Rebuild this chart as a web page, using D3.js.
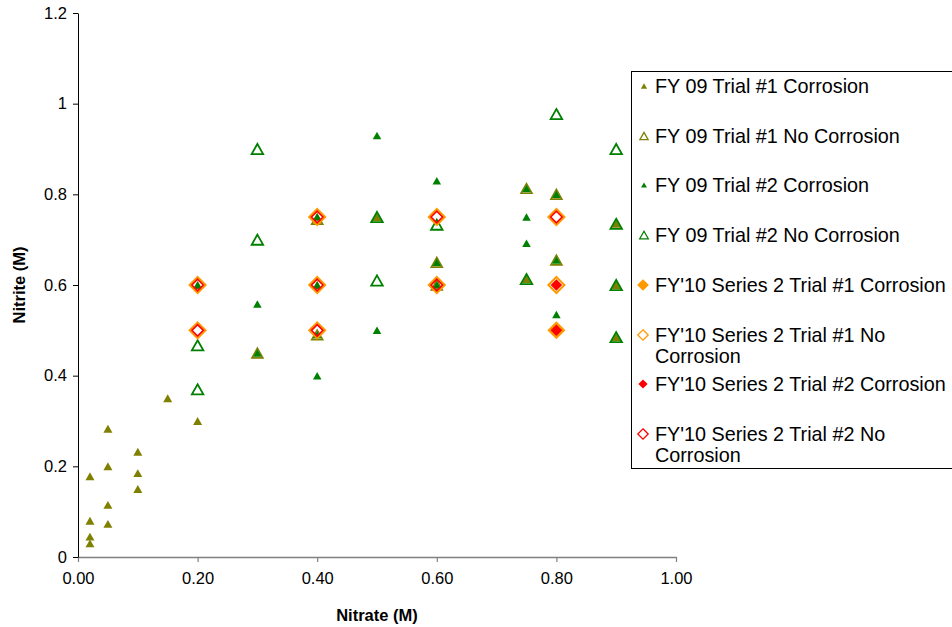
<!DOCTYPE html>
<html><head><meta charset="utf-8">
<script src="https://cdn.jsdelivr.net/npm/d3@7"></script>
<style>body{margin:0;background:#fff;overflow:hidden}svg{display:block}text{font-family:"Liberation Sans",Arial,sans-serif}</style>
</head><body>
<script>
const xTicks = [0, 0.2, 0.4, 0.6, 0.8, 1.0];
const yTicks = [0, 0.2, 0.4, 0.6, 0.8, 1.0, 1.2];

const seriesNames = [
  "FY 09 Trial #1 Corrosion",
  "FY 09 Trial #1 No Corrosion",
  "FY 09 Trial #2 Corrosion",
  "FY 09 Trial #2 No Corrosion",
  "FY'10 Series 2 Trial #1 Corrosion",
  "FY'10 Series 2 Trial #1 No Corrosion",
  "FY'10 Series 2 Trial #2 Corrosion",
  "FY'10 Series 2 Trial #2 No Corrosion"
];

const t1cX = [0.02,0.02,0.02,0.02,0.05,0.05,0.05,0.05,0.10,0.10,0.10,0.15,0.20,0.20,0.40,0.50,0.75,0.90,0.90,0.90];
const t1cY = [0.03,0.045,0.08,0.178,0.073,0.115,0.20,0.283,0.15,0.185,0.232,0.35,0.30,0.60,0.60,0.75,0.613,0.735,0.60,0.485];

const t1ncX = [0.30,0.40,0.40,0.60,0.60,0.75,0.80,0.80];
const t1ncY = [0.45,0.745,0.49,0.65,0.60,0.813,0.80,0.655];

const t2cX = [0.20,0.30,0.30,0.40,0.40,0.40,0.40,0.50,0.50,0.60,0.60,0.60,0.75,0.75,0.75,0.80,0.80,0.80];
const t2cY = [0.60,0.558,0.45,0.40,0.75,0.60,0.49,0.93,0.50,0.83,0.65,0.60,0.813,0.75,0.692,0.80,0.655,0.535];

const t2ncX = [0.20,0.20,0.30,0.30,0.50,0.50,0.60,0.75,0.80,0.90,0.90,0.90,0.90];
const t2ncY = [0.37,0.467,0.90,0.70,0.75,0.61,0.733,0.613,0.977,0.90,0.735,0.60,0.485];

const s2t1cX = [0.80];
const s2t1cY = [0.50];

const s2t1ncX = [0.20,0.20,0.40,0.40,0.40,0.60,0.60,0.80,0.80];
const s2t1ncY = [0.60,0.50,0.75,0.60,0.50,0.75,0.60,0.75,0.60];

const s2t2cX = [0.80,0.80];
const s2t2cY = [0.60,0.50];

const s2t2ncX = [0.20,0.20,0.40,0.40,0.40,0.60,0.60,0.80];
const s2t2ncY = [0.60,0.50,0.75,0.60,0.50,0.75,0.60,0.75];

const OLIVE = "#808000", GREEN = "#008000", ORANGE = "#FF9900", RED = "#FF0000";

const series = [
  {name: seriesNames[0], xs: t1cX, ys: t1cY, shape: "tri", fill: OLIVE, stroke: "none", size: 9, sw: 0},
  {name: seriesNames[1], xs: t1ncX, ys: t1ncY, shape: "tri", fill: "none", stroke: OLIVE, size: 11, sw: 1.6},
  {name: seriesNames[2], xs: t2cX, ys: t2cY, shape: "tri", fill: GREEN, stroke: "none", size: 8.5, sw: 0},
  {name: seriesNames[3], xs: t2ncX, ys: t2ncY, shape: "tri", fill: "none", stroke: GREEN, size: 11.5, sw: 1.8},
  {name: seriesNames[4], xs: s2t1cX, ys: s2t1cY, shape: "dia", fill: ORANGE, stroke: "none", size: 18, sw: 0},
  {name: seriesNames[5], xs: s2t1ncX, ys: s2t1ncY, shape: "dia", fill: "none", stroke: ORANGE, size: 16, sw: 2},
  {name: seriesNames[6], xs: s2t2cX, ys: s2t2cY, shape: "dia", fill: RED, stroke: "none", size: 11.5, sw: 0},
  {name: seriesNames[7], xs: s2t2ncX, ys: s2t2ncY, shape: "dia", fill: "none", stroke: RED, size: 11.5, sw: 1.6}
];

const W = 952, H = 627;
const svg = d3.select("body").append("svg").attr("width", W).attr("height", H);

const x = d3.scaleLinear().domain([0, 1]).range([78, 676]);
const y = d3.scaleLinear().domain([0, 1.2]).range([557, 13]);

function shapePath(shape, s) {
  if (shape === "tri") {
    const h = s * 0.88;
    return `M0,${-h/2}L${s/2},${h/2}L${-s/2},${h/2}Z`;
  }
  const r = s / 2;
  return `M0,${-r}L${r},0L0,${r}L${-r},0Z`;
}

// Axes
const xAxis = svg.append("g").attr("transform", "translate(0,557)")
  .call(d3.axisBottom(x).tickValues(xTicks).tickFormat(d3.format(".2f")).tickSize(5).tickSizeOuter(0));
xAxis.select(".domain").attr("stroke", "#808080").attr("stroke-width", 1.5);
xAxis.selectAll(".tick line").attr("stroke", "#808080").attr("stroke-width", 1.2);
xAxis.selectAll(".tick text").attr("font-size", 16.5).attr("fill", "#000").attr("dy", "1.15em");

const yAxis = svg.append("g").attr("transform", "translate(78,0)")
  .call(d3.axisLeft(y).tickValues(yTicks).tickFormat(d => d3.format("")(+d.toFixed(1))).tickSize(5).tickSizeOuter(0));
yAxis.select(".domain").attr("stroke", "#000").attr("stroke-width", 1);
yAxis.selectAll(".tick line").attr("stroke", "#000");
yAxis.selectAll(".tick text").attr("font-size", 16.5).attr("fill", "#000").attr("x", -11);

svg.append("text").attr("x", 377).attr("y", 621).attr("text-anchor", "middle")
  .attr("font-size", 16.5).attr("font-weight", "bold").text("Nitrate (M)");
svg.append("text").attr("transform", "translate(25,285) rotate(-90)").attr("text-anchor", "middle")
  .attr("font-size", 16.5).attr("font-weight", "bold").text("Nitrite (M)");

// Points
series.forEach(s => {
  const pts = s.xs.map((v, i) => [v, s.ys[i]]);
  svg.append("g").selectAll("path").data(pts).join("path")
    .attr("transform", d => `translate(${x(d[0])},${y(d[1])})`)
    .attr("d", shapePath(s.shape, s.size))
    .attr("fill", s.fill).attr("stroke", s.stroke).attr("stroke-width", s.sw);
});

// Legend
const lg = svg.append("g");
lg.append("rect").attr("x", 631.5).attr("y", 71.5).attr("width", 330).attr("height", 397)
  .attr("fill", "#fff").attr("stroke", "#000").attr("stroke-width", 1);
const legendRows = [
  {lines: [seriesNames[0]], y: 86},
  {lines: [seriesNames[1]], y: 136},
  {lines: [seriesNames[2]], y: 185},
  {lines: [seriesNames[3]], y: 235},
  {lines: [seriesNames[4]], y: 285},
  {lines: ["FY'10 Series 2 Trial #1 No", "Corrosion"], y: 335},
  {lines: [seriesNames[6]], y: 384},
  {lines: ["FY'10 Series 2 Trial #2 No", "Corrosion"], y: 434}
];
const legendScale = [0.7, 0.75, 0.7, 0.75, 0.65, 0.65, 0.8, 0.9];
legendRows.forEach((r, i) => {
  const s = series[i];
  lg.append("path").attr("transform", `translate(${s.shape === "tri" ? 644 : 643},${r.y})`)
    .attr("d", shapePath(s.shape, s.size * legendScale[i]))
    .attr("fill", s.fill).attr("stroke", s.stroke).attr("stroke-width", s.sw ? 1.3 : 0);
  r.lines.forEach((t, j) => {
    lg.append("text").attr("x", 655).attr("y", r.y + j * 21).attr("dy", "0.35em")
      .attr("font-size", 19.8).attr("fill", "#000").text(t);
  });
});
</script>
</body></html>
